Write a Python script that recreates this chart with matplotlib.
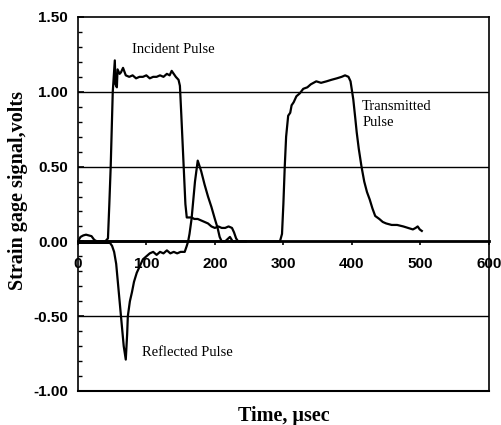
import matplotlib
matplotlib.use("Agg")
import matplotlib.pyplot as plt
from matplotlib.ticker import MultipleLocator

plt.rcParams['axes.unicode_minus'] = False

# Incident pulse (time in usec, signal in volts)
incident_t = [0, 20, 40, 44, 46, 48, 51, 54, 55, 57, 58, 61, 63, 66, 70, 75, 80, 85, 90,
              95, 100, 105, 110, 115, 120, 125, 130, 134, 137, 140, 143, 147, 149, 151,
              153, 155, 157, 159, 162, 166, 170, 175, 180, 185, 190, 195, 200, 205, 210,
              215, 220, 225, 228, 231, 234, 245]
incident_v = [0, 0, 0, 0.02, 0.25, 0.5, 1.0, 1.21, 1.05, 1.03, 1.15, 1.12, 1.13, 1.16,
              1.11, 1.10, 1.11, 1.09, 1.10, 1.10, 1.11, 1.09, 1.10, 1.10, 1.11, 1.10,
              1.12, 1.11, 1.14, 1.12, 1.10, 1.08, 1.04, 0.85, 0.65, 0.45, 0.25, 0.16,
              0.16, 0.16, 0.15, 0.15, 0.14, 0.13, 0.12, 0.10, 0.09, 0.10, 0.09, 0.09,
              0.10, 0.09, 0.06, 0.02, 0.0, 0.0]

# Reflected pulse
reflected_t = [0, 20, 40, 47, 50, 53, 56, 59, 62, 64, 67, 70, 72, 73, 76, 79, 82, 86, 90,
               95, 100, 105, 110, 115, 120, 125, 130, 135, 140, 145, 150, 156, 159, 161,
               163, 166, 168, 171, 175, 180, 185, 190, 195, 200, 204, 207, 210, 215, 222,
               226, 230]
reflected_v = [-0.01, -0.01, -0.01, -0.01, -0.03, -0.07, -0.15, -0.3, -0.45, -0.55,
               -0.7, -0.79, -0.62, -0.5, -0.4, -0.34, -0.27, -0.21, -0.17, -0.12, -0.10,
               -0.08, -0.07, -0.09, -0.07, -0.08, -0.06, -0.08, -0.07, -0.08, -0.07,
               -0.07, -0.03, 0.0, 0.05, 0.15, 0.25, 0.4, 0.54, 0.47, 0.38, 0.30, 0.23,
               0.15, 0.09, 0.03, 0.0, 0.0, 0.03, 0.0, 0.0]

# Transmitted pulse
transmitted_t = [0, 4, 8, 12, 16, 20, 24, 28, 60, 150, 250, 295, 298, 300, 302, 304, 307,
                 310, 312, 315, 319, 324, 329, 335, 340, 348, 355, 363, 370, 378, 385, 390,
                 395, 398, 402, 405, 407, 410, 414, 418, 422, 426, 430, 434, 440, 445, 450,
                 458, 466, 475, 482, 489, 493, 496, 499, 502]
transmitted_v = [0, 0.03, 0.04, 0.045, 0.04, 0.035, 0.01, 0, 0, 0, 0, 0, 0.05, 0.25, 0.5,
                 0.7, 0.84, 0.86, 0.91, 0.93, 0.97, 0.99, 1.02, 1.03, 1.05, 1.07, 1.06,
                 1.07, 1.08, 1.09, 1.10, 1.11, 1.10, 1.07, 0.95, 0.82, 0.73, 0.62, 0.5,
                 0.4, 0.33, 0.28, 0.22, 0.17, 0.15, 0.13, 0.12, 0.11, 0.11, 0.10, 0.09,
                 0.08, 0.09, 0.10, 0.08, 0.07]

xticks = [0, 100, 200, 300, 400, 500, 600]
yticks = [-1.0, -0.5, 0.0, 0.5, 1.0, 1.5]
ytick_labels = ["-1.00", "-0.50", "0.00", "0.50", "1.00", "1.50"]

fig = plt.figure(figsize=(5.02, 4.25), dpi=100)
ax = fig.add_axes([0.155, 0.08, 0.819, 0.88])

ax.plot(incident_t, incident_v, color='black', lw=1.6)
ax.plot(reflected_t, reflected_v, color='black', lw=1.6)
ax.plot(transmitted_t, transmitted_v, color='black', lw=1.6)

ax.set_xlim(0, 600)
ax.set_ylim(-1.0, 1.5)

# Gridlines
for yv in [-0.5, 0.5, 1.0]:
    ax.axhline(yv, color='black', lw=1.0, zorder=1)
ax.axhline(-1.0, color='black', lw=1.5, clip_on=False)

# x axis sits on the zero line
ax.spines['bottom'].set_position(('data', 0))
ax.spines['bottom'].set_linewidth(2.0)
for s in ['left', 'top', 'right']:
    ax.spines[s].set_linewidth(1.2)

ax.set_xticks(xticks)
ax.set_xticklabels([str(v) for v in xticks])
ax.set_yticks(yticks)
ax.set_yticklabels(ytick_labels)
ax.yaxis.set_minor_locator(MultipleLocator(0.1))
ax.tick_params(axis='x', direction='out', length=3, width=1.2, pad=8)
ax.tick_params(axis='y', which='major', direction='in', length=4, width=1.2, pad=7)
ax.tick_params(axis='y', which='minor', direction='in', length=3, width=1.0)
for lab in ax.get_xticklabels() + ax.get_yticklabels():
    lab.set_fontfamily('Liberation Sans')
    lab.set_fontweight('bold')
    lab.set_fontsize(11)

ax.set_xlabel("Time, µsec", fontfamily='Liberation Serif', fontweight='bold', fontsize=14.5)
ax.xaxis.set_label_coords(0.5, -0.068)
ax.xaxis.label.set_va('center')
ax.set_ylabel("Strain gage signal,volts", fontfamily='Liberation Serif', fontweight='bold',
              fontsize=14.5)
ax.yaxis.set_label_coords(-0.145, 0.535)
ax.yaxis.label.set_va('center')

ax.text(140, 1.28, "Incident Pulse", fontfamily='Liberation Serif', fontsize=10.5,
        ha='center', va='center')
ax.text(415, 0.845, "Transmitted\nPulse", fontfamily='Liberation Serif', fontsize=10.5,
        ha='left', va='center', linespacing=1.3)
ax.text(93, -0.74, "Reflected Pulse", fontfamily='Liberation Serif', fontsize=10.5,
        ha='left', va='center')

fig.savefig("out.png", dpi=100)
